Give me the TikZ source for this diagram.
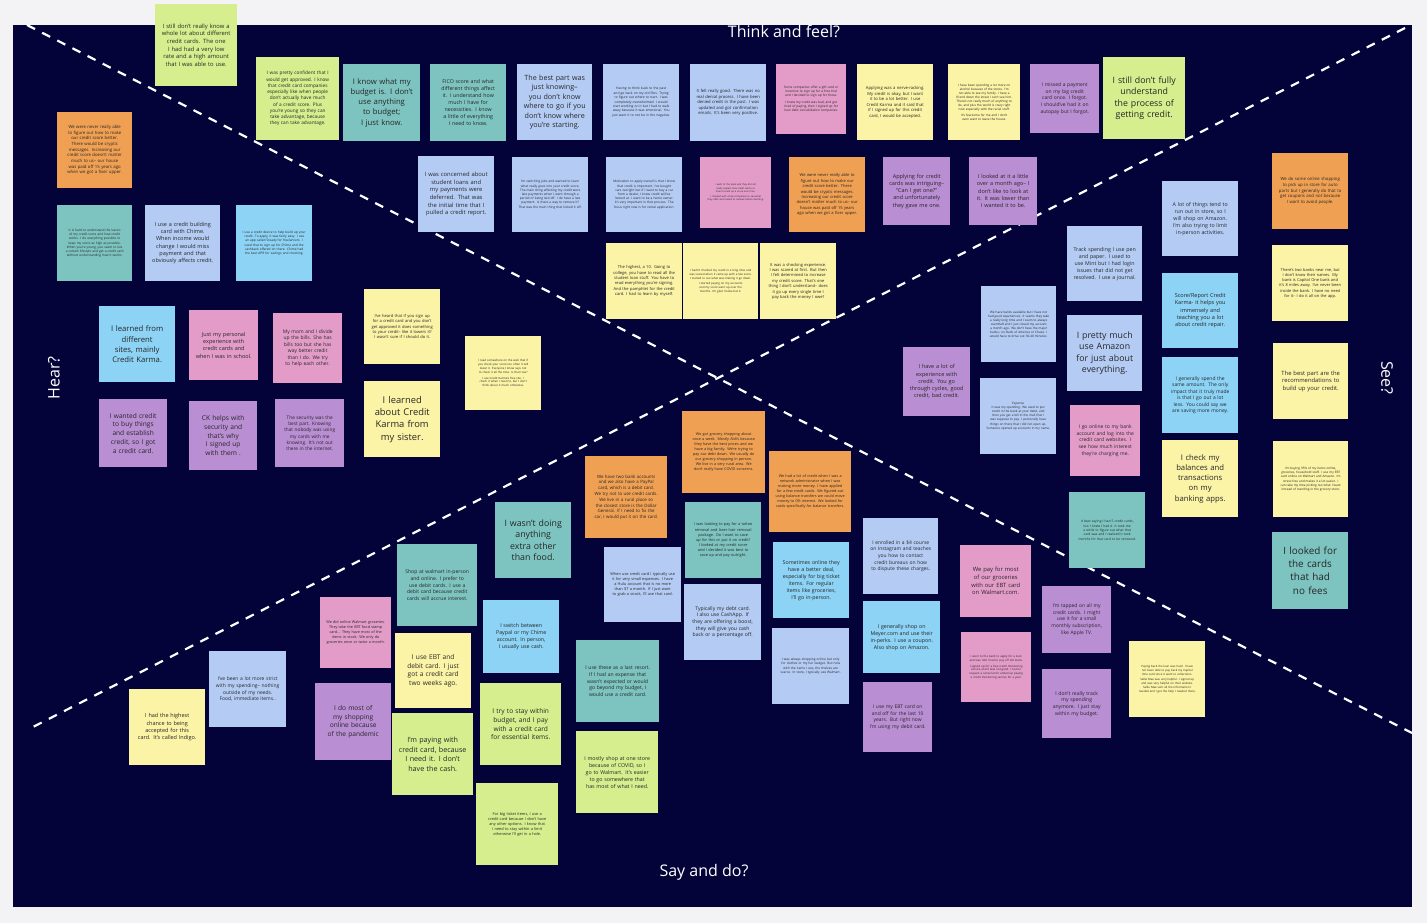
\documentclass[tikz,border=0pt]{standalone}
\usepackage{fontspec}
\setmainfont{Open Sans}
\definecolor{bgc}{HTML}{F3F3F5}
\definecolor{navy}{HTML}{03033A}
\definecolor{cyel}{HTML}{FBF3A6}
\definecolor{clim}{HTML}{D6EE8E}
\definecolor{cteal}{HTML}{7DC4C0}
\definecolor{clb}{HTML}{B4CCF4}
\definecolor{ccy}{HTML}{8DD3F5}
\definecolor{cpk}{HTML}{E39CC8}
\definecolor{cpu}{HTML}{B98ED3}
\definecolor{cor}{HTML}{F0A052}
\hyphenpenalty=10000\relax
\exhyphenpenalty=10000\relax
\tikzset{sticky/.style={anchor=north west,inner sep=3pt,align=center,text=black!85}}
\newcommand\sn[8]{\pgfmathsetmacro\fsz{#7*1.1}\pgfmathsetmacro\bsk{#7*1.1*1.32}\pgfmathsetmacro\tw{#4-12}%
\node[sticky,fill=#6,minimum width=#4pt,minimum height=#5pt,text width=\tw pt,font=\fontsize{\fsz}{\bsk}\selectfont] (#1) at (#2,#3) {\hyphenpenalty=10000\relax #8};}
\begin{document}
\begin{tikzpicture}[x=1pt,y=-1pt]
\fill[bgc] (0,0) rectangle (1427,923);
\useasboundingbox (0,0) rectangle (1427,923);
\fill[navy] (13,25) rectangle (1412,907);
\coordinate (tl) at (27,25); \coordinate (br) at (1412,733);
\coordinate (tr) at (1405,28); \coordinate (bl) at (27,730);
\draw[white,line width=2.2pt,dash pattern=on 9pt off 8pt] (tl) -- (br);
\draw[white,line width=2.2pt,dash pattern=on 9pt off 8pt] (tr) -- (bl);
\node[white,font=\fontsize{16}{19}\selectfont] (think) at (784,31) {Think and feel?};
\node[white,font=\fontsize{16}{19}\selectfont] (say) at (704,872) {Say and do?};
\node[white,rotate=90,font=\fontsize{16}{19}\selectfont] (hear) at (54,378) {Hear?};
\node[white,rotate=-90,font=\fontsize{16}{19}\selectfont] (see) at (1387,378) {See?};
% top
\sn{a1}{155}{4}{82}{82}{clim}{5.3}{I still don't really know a whole lot about different credit cards. The one I had had a very low rate and a high amount that I was able to use.}
\sn{a2}{256}{57}{83}{83}{clim}{4.3}{I was pretty confident that I would get approved. I know that credit card companies especially like when people don't actually have much of a credit score. Plus you're young so they can take advantage, because they can take advantage.}
\sn{a3}{343}{64}{77}{77}{cteal}{7}{I know what my budget is. I don't use anything to budget; I just know.}
\sn{a4}{430}{64}{76}{77}{cteal}{4.8}{FICO score and what different things affect it. I understand how much I have for necessities. I know a little of everything I need to know.}
\sn{a5}{517}{64}{75}{76}{clb}{6.5}{The best part was just knowing-- you don't know where to go if you don't know where you're starting.}
\sn{a6}{603}{64}{76}{76}{clb}{3}{Having to think back to the past and go back on my old files. Trying to figure out where to start. I was completely overwhelmed. I would start working on it but I had to walk away because it was emotional. You just want it to not be in the negative.}
\sn{a7}{690}{64}{76}{77}{clb}{3.8}{It felt really good. There was no real denial process. I have been denied credit in the past. I was updated and got confirmation emails. It's been very positive.}
\sn{a8}{776}{64}{70}{70}{cpk}{2.9}{Some companies offer a gift card or incentive to sign up for a free trial and I decided to sign up for those.\\[2pt] I knew my credit was bad, and got tired of paying, then I signed up for loan debt consolidation companies.}
\sn{a9}{857}{64}{76}{76}{cyel}{3.8}{Applying was a nerve-racking. My credit is okay, but I want it to be a lot better. I use Credit Karma and it said that if I signed up for this credit card, I would be accepted.}
\sn{a10}{948}{64}{72}{76}{cyel}{2.8}{I have been spending a lot more on alcohol because of the stress. I'm not able to see my family. I have a friend down the street I can't see him. There's not really much of anything to do, and plus the world is crazy right now especially with the racial stuff.\\[2pt] It's fearsome for me and I don't even want to leave the house.}
\sn{a11}{1030}{64}{69}{69}{cpu}{4.5}{I missed a payment on my big credit card once. I forgot. I should've had it on autopay but I forgot.}
\sn{a12}{1103}{57}{82}{82}{clim}{8}{I still don't fully understand the process of getting credit.}
\sn{b1}{57}{112}{75}{76}{cor}{3.9}{We were never really able to figure out how to make our credit score better. There would be cryptic messages. Increasing our credit score doesn't matter much to us-- our house was paid off 15 years ago when we got a fixer upper.}
\sn{b2}{418}{156}{76}{76}{clb}{5.3}{I was concerned about student loans and my payments were deferred. That was the initial time that I pulled a credit report.}
\sn{b3}{512}{157}{76}{75}{clb}{2.9}{I'm switching jobs and wanted to learn what really goes into your credit score. The main thing affecting my credit were late payments when I went through a period of being laid off. I do have a late payment. Is there a way to remove it? That was the main thing that kicked it off.}
\sn{b4}{606}{157}{76}{75}{clb}{2.9}{Motivation to apply overall is that I know that credit is important. I've bought cars outright but if I want to buy a car from a dealer, I know credit will be looked at. I want to be a home owner. It's very important in that process. The focus right now is for rental application.}
\sn{b5}{700}{157}{71}{71}{cpk}{2.2}{I went to the bank and they did not really explain how credit works or how to build up a score over time.\\[2pt] I checked with a few companies to see what they offer and looked at reviews before deciding.}
\sn{b6}{789}{157}{76}{75}{cor}{3.7}{We were never really able to figure out how to make our credit score better. There would be cryptic messages. Increasing our credit score doesn't matter much to us-- our house was paid off 15 years ago when we got a fixer upper.}
\sn{b7}{883}{157}{67}{68}{cpu}{5}{Applying for credit cards was intriguing-- ``Can I get one?'' and unfortunately they gave me one.}
\sn{b8}{969}{157}{68}{68}{cpu}{5}{I looked at it a little over a month ago-- I don't like to look at it. It was lower than I wanted it to be.}
\sn{c1}{57}{205}{75}{76}{cteal}{2.9}{It is hard to understand the basics of my credit score and how credit works. I do everything possible to keep my score as high as possible. When you're young, you seem to live a certain lifestyle and get a credit card without understanding how it works.}
\sn{c2}{145}{205}{75}{76}{clb}{5}{I use a credit building card with Chime. When income would change I would miss payment and that obviously affects credit.}
\sn{c3}{236}{205}{76}{76}{ccy}{2.9}{I use a credit device to help build up your credit. To apply, it was fairly easy. I use an app called Steady for freelancers. I used that to sign up for Chime and the cashback offered on there. Chime had the best APR for savings and checking.}
\sn{c4}{606}{243}{76}{76}{cyel}{3.7}{The highest, a 10. Going to college, you have to read all the student loan stuff. You have to read everything you're signing. And the pamphlet for the credit card. I had to learn by myself.}
\sn{c5}{683}{243}{75}{76}{cyel}{2.6}{I hadn't checked my credit in a long time and was scared when it came up with a low score. I started to see what was making it go down.\\[2pt] I started paying on my accounts and my score went up over the months. I'm glad I looked at it.}
\sn{c6}{760}{243}{76}{76}{cyel}{3.7}{It was a shocking experience. I was scared at first. But then I felt determined to increase my credit score. That's one thing I don't understand-- does it go up every single time I pay back the money I owe?}
% right
\sn{d1}{1272}{153}{76}{76}{cor}{3.9}{We do some online shopping to pick up in store for auto parts but I generally do that to get coupons and not because I want to avoid people.}
\sn{d2}{1162}{181}{76}{75}{clb}{4.8}{A lot of things tend to run out in store, so I will shop on Amazon. I'm also trying to limit in-person activities.}
\sn{d3}{1067}{226}{75}{75}{clb}{4.8}{Track spending I use pen and paper. I used to use Mint but I had login issues that did not get resolved. I use a journal.}
\sn{d4}{1272}{245}{76}{76}{cyel}{3.6}{There's two banks near me, but I don't know their names. My bank is Capitol One bank and it's 8 miles away. I've never been inside the bank. I have no need for it-- I do it all on the app.}
\sn{d5}{1162}{273}{76}{75}{ccy}{5}{Score/Report Credit Karma- it helps you immensely and teaching you a lot about credit repair.}
\sn{d6}{981}{286}{75}{76}{clb}{2.8}{We have banks available but I have not had good experiences. It seems they take a really long time and I seem to always overdraft and I just closed my account a month ago. We don't have the major banks-- no Bank of America or Chase. I would have to drive out 30-40 minutes.}
\sn{d7}{1067}{315}{75}{76}{clb}{8}{I pretty much use Amazon for just about everything.}
\sn{d8}{903}{347}{67}{69}{cpu}{5}{I have a lot of experience with credit. You go through cycles, good credit, bad credit.}
\sn{d9}{980}{378}{76}{76}{clb}{2.8}{Expense\\ It was my spending. We used to put credit in the bank at your debit, and then you get a bill in the mail that I was suppose to pay. I personally have things on there that I did not open up. Someone opened up accounts in my name.}
\sn{d10}{1162}{357}{76}{76}{ccy}{4.5}{I generally spend the same amount. The only impact that it truly made is that I go out a lot less. You could say we are saving more money.}
\sn{d11}{1273}{343}{75}{76}{cyel}{5.3}{The best part are the recommendations to build up your credit.}
\sn{d12}{1070}{405}{70}{71}{cpk}{4.5}{I go online to my bank account and log into the credit card websites. I see how much interest they're charging me.}
\sn{d13}{1162}{440}{76}{77}{cyel}{7}{I check my balances and transactions on my banking apps.}
\sn{d14}{1273}{441}{75}{76}{cyel}{2.8}{I'm buying 95\% of my items online, groceries, household stuff. I use my EBT card online on Walmart and Amazon. It's stress free and makes it a lot easier. I can take my time picking out what I want instead of standing in the grocery store.}
\sn{d15}{1069}{492}{76}{76}{cteal}{3}{It kept saying I had 5 credit cards, but I knew I had 4. It took me a while to figure out what that card was and I realized it took months for that card to be removed.}
\sn{d16}{1272}{532}{76}{77}{cteal}{9}{I looked for the cards that had no fees}
\sn{d17}{960}{545}{71}{72}{cpk}{5.3}{We pay for most of our groceries with our EBT card on Walmart.com.}
\sn{d18}{1042}{586}{69}{67}{cpu}{4.5}{I'm tapped on all my credit cards. I might use it for a small monthly subscription, like Apple TV.}
\sn{d19}{961}{632}{70}{70}{cpk}{2.6}{I went to the bank to apply for a loan and was told I had to pay off old loans.\\[2pt] I signed up for a free credit monitoring service and it was not good. I had to request a cancel and I ended up paying a credit monitoring service for a year.}
\sn{d20}{1042}{669}{69}{69}{cpu}{4.6}{I don't really track my spending anymore. I just stay within my budget.}
\sn{d21}{1129}{641}{76}{76}{cyel}{2.6}{Paying back the loan was hard. I have not been able to pay back my Capital One card since it went to collections.\\[2pt] Sallie Mae was very helpful. I signed up and was very helpful on their website. Sallie Mae sent all the information I needed and I got the help I needed there.}
% left
\sn{e1}{364}{289}{76}{75}{cyel}{3.7}{I've heard that if you sign up for a credit card and you don't get approved it does something to your credit-- like it lowers it? I wasn't sure if I should do it.}
\sn{e2}{465}{336}{76}{74}{cyel}{2.6}{I read somewhere on the web that if you check your score too often it will lower it. Everyone I know says not to check it all the time. Is that true?\\[2pt] I use Credit Karma's free site. I check it when I need to, but I don't think about it much otherwise.}
\sn{e3}{364}{381}{76}{76}{cyel}{8.5}{I learned about Credit Karma from my sister.}
\sn{e4}{99}{306}{76}{76}{ccy}{7}{I learned from different sites, mainly Credit Karma.}
\sn{e5}{189}{310}{69}{70}{cpk}{5}{Just my personal experience with credit cards and when I was in school.}
\sn{e6}{273}{313}{69}{70}{cpk}{4.5}{My mom and I divide up the bills. She has bills too but she has way better credit than I do. We try to help each other.}
\sn{e7}{99}{399}{68}{68}{cpu}{6}{I wanted credit to buy things and establish credit, so I got a credit card.}
\sn{e8}{189}{401}{68}{69}{cpu}{6}{CK helps with security and that's why I signed up with them .}
\sn{e9}{275}{399}{69}{68}{cpu}{4.3}{The security was the best part. Knowing that nobody was using my cards with me knowing. It's not out there in the internet.}
% bottom
\sn{f1}{682}{411}{83}{82}{cor}{3.4}{We got grocery shopping about once a week. Mostly Aldi's because they have the best prices and we have a big family. We're trying to pay our debt down. We usually do our grocery shopping in person. We live in a very rural area. We don't really have COVID concerns.}
\sn{f2}{585}{456}{82}{82}{cor}{4}{We have two bank accounts and we also have a PayPal card, which is a debit card. We try not to use credit cards. We live in a rural place so the closest store is the Dollar General. If I need to fix the car, I would put it on the card.}
\sn{f3}{769}{451}{82}{81}{cor}{3.4}{We had a lot of credit when I was a network administrator when I was making more money. I have applied for a few credit cards. We figured out using balance transfers we could move money to 0\% interest. We looked for cards specifically for balance transfers.}
\sn{f4}{495}{502}{76}{76}{cteal}{8}{I wasn't doing anything extra other than food.}
\sn{f5}{685}{502}{76}{76}{cteal}{3.5}{I was looking to pay for a tattoo removal and laser hair removal package. Do I want to save up for this or put it on credit? I looked at my credit score and I decided it was best to save up and pay outright.}
\sn{f6}{604}{547}{77}{75}{clb}{3.5}{When use credit card I typically use it for very small expenses. I have a Hulu account that is no more than \$7 a month. If I just want to grab a snack, I'll use that card.}
\sn{f7}{773}{542}{76}{76}{ccy}{4.8}{Sometimes online they have a better deal, especially for big ticket items. For regular items like groceries, I'll go in-person.}
\sn{f8}{863}{518}{75}{76}{clb}{4.5}{I enrolled in a \$4 course on Instagram and teaches you how to contact credit bureaus on how to dispute these charges.}
\sn{f9}{397}{544}{80}{82}{cteal}{4.6}{Shop at walmart in-person and online. I prefer to use debit cards. I use a debit card because credit cards will accrue interest.}
\sn{f10}{684}{584}{77}{76}{clb}{4.6}{Typically my debt card. I also use CashApp. If they are offering a boost, they will give you cash back or a percentage off.}
\sn{f11}{863}{601}{77}{72}{ccy}{4.8}{I generally shop on Meyer.com and use their in-perks. I use a coupon. Also shop on Amazon.}
\sn{f12}{483}{600}{76}{73}{ccy}{4.8}{I switch between Paypal or my Chime account. In person, I usually use cash.}
\sn{f13}{772}{628}{77}{76}{clb}{2.9}{I was always shopping online but only for clothes or my fun budget. But now with the items I use, the shelves are scarce. In store, I typically use Walmart.}
\sn{f14}{576}{640}{83}{82}{cteal}{4.6}{I use these as a last resort. If I had an expense that wasn't expected or would go beyond my budget, I would use a credit card.}
\sn{f15}{863}{682}{69}{70}{cpu}{4.5}{I use my EBT card on and off for the last 10 years. But right now I'm using my debit card.}
\sn{f16}{480}{683}{81}{82}{clim}{6}{I try to stay within budget, and I pay with a credit card for essential items.}
\sn{f17}{576}{731}{82}{82}{clim}{4.8}{I mostly shop at one store because of COVID, so I go to Walmart. It's easier to go somewhere that has most of what I need.}
\sn{f18}{476}{783}{82}{82}{clim}{3.5}{For big ticket items, I use a credit card because I don't have any other options. I know that I need to stay within a limit otherwise I'll get in a hole.}
\sn{f19}{320}{597}{71}{71}{cpk}{3.4}{We did online Walmart groceries. They take the EBT food stamp card... They have most of the items in stock. We only do groceries once or twice a month.}
\sn{f20}{395}{633}{76}{75}{cyel}{6}{I use EBT and debit card. I just got a credit card two weeks ago.}
\sn{f21}{315}{683}{76}{77}{cpu}{6}{I do most of my shopping online because of the pandemic}
\sn{f22}{392}{713}{81}{82}{clim}{6.5}{I'm paying with credit card, because I need it. I don't have the cash.}
\sn{f23}{209}{651}{77}{76}{clb}{4.5}{I've been a lot more strict with my spending-- nothing outside of my needs. Food, immediate items..}
\sn{f24}{129}{689}{76}{76}{cyel}{5}{I had the highest chance to being accepted for this card. It's called Indigo.}
\end{tikzpicture}
\end{document}
